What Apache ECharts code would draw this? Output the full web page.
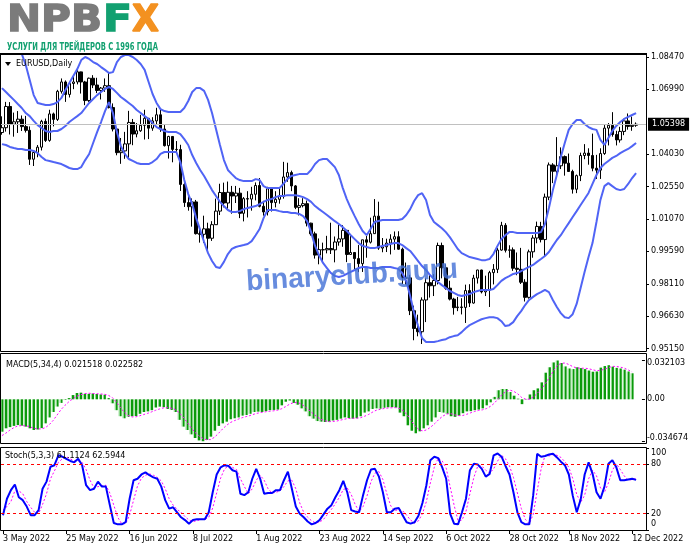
<!DOCTYPE html>
<html><head><meta charset="utf-8">
<script src="https://cdn.jsdelivr.net/npm/echarts@6/dist/echarts.min.js"></script>
<style>html,body{margin:0;padding:0;background:#fff}#c{width:691px;height:549px}</style>
</head><body><div id="c"></div>
<script>
const dates = [
'3 May 2022','4 May 2022','5 May 2022','6 May 2022','9 May 2022','10 May 2022','11 May 2022','12 May 2022','13 May 2022','16 May 2022','17 May 2022','18 May 2022','19 May 2022','20 May 2022','23 May 2022','24 May 2022','25 May 2022','26 May 2022','27 May 2022','30 May 2022','31 May 2022',
'1 Jun 2022','2 Jun 2022','3 Jun 2022','6 Jun 2022','7 Jun 2022','8 Jun 2022','9 Jun 2022','10 Jun 2022','13 Jun 2022','14 Jun 2022','15 Jun 2022','16 Jun 2022','17 Jun 2022','20 Jun 2022','21 Jun 2022','22 Jun 2022','23 Jun 2022','24 Jun 2022','27 Jun 2022','28 Jun 2022','29 Jun 2022','30 Jun 2022',
'1 Jul 2022','4 Jul 2022','5 Jul 2022','6 Jul 2022','7 Jul 2022','8 Jul 2022','11 Jul 2022','12 Jul 2022','13 Jul 2022','14 Jul 2022','15 Jul 2022','18 Jul 2022','19 Jul 2022','20 Jul 2022','21 Jul 2022','22 Jul 2022','25 Jul 2022','26 Jul 2022','27 Jul 2022','28 Jul 2022','29 Jul 2022',
'1 Aug 2022','2 Aug 2022','3 Aug 2022','4 Aug 2022','5 Aug 2022','8 Aug 2022','9 Aug 2022','10 Aug 2022','11 Aug 2022','12 Aug 2022','15 Aug 2022','16 Aug 2022','17 Aug 2022','18 Aug 2022','19 Aug 2022','22 Aug 2022','23 Aug 2022','24 Aug 2022','25 Aug 2022','26 Aug 2022','29 Aug 2022','30 Aug 2022','31 Aug 2022',
'1 Sep 2022','2 Sep 2022','5 Sep 2022','6 Sep 2022','7 Sep 2022','8 Sep 2022','9 Sep 2022','12 Sep 2022','13 Sep 2022','14 Sep 2022','15 Sep 2022','16 Sep 2022','19 Sep 2022','20 Sep 2022','21 Sep 2022','22 Sep 2022','23 Sep 2022','26 Sep 2022','27 Sep 2022','28 Sep 2022','29 Sep 2022','30 Sep 2022',
'3 Oct 2022','4 Oct 2022','5 Oct 2022','6 Oct 2022','7 Oct 2022','10 Oct 2022','11 Oct 2022','12 Oct 2022','13 Oct 2022','14 Oct 2022','17 Oct 2022','18 Oct 2022','19 Oct 2022','20 Oct 2022','21 Oct 2022','24 Oct 2022','25 Oct 2022','26 Oct 2022','27 Oct 2022','28 Oct 2022','31 Oct 2022',
'1 Nov 2022','2 Nov 2022','3 Nov 2022','4 Nov 2022','7 Nov 2022','8 Nov 2022','9 Nov 2022','10 Nov 2022','11 Nov 2022','14 Nov 2022','15 Nov 2022','16 Nov 2022','17 Nov 2022','18 Nov 2022','21 Nov 2022','22 Nov 2022','23 Nov 2022','24 Nov 2022','25 Nov 2022','28 Nov 2022','29 Nov 2022','30 Nov 2022',
'1 Dec 2022','2 Dec 2022','5 Dec 2022','6 Dec 2022','7 Dec 2022','8 Dec 2022','9 Dec 2022','12 Dec 2022','13 Dec 2022'];

const tickLabels = ['3 May 2022','25 May 2022','16 Jun 2022','8 Jul 2022','1 Aug 2022','23 Aug 2022','14 Sep 2022','6 Oct 2022','28 Oct 2022','18 Nov 2022','12 Dec 2022'];

// [open, high, low, close]
const ohlc = [
[1.0502,1.0576,1.0492,1.0524],[1.0524,1.0642,1.0506,1.0621],[1.0621,1.0641,1.0493,1.0540],[1.0540,1.0593,1.0483,1.0551],[1.0551,1.0600,1.0500,1.0563],
[1.0563,1.0580,1.0509,1.0529],[1.0529,1.0578,1.0502,1.0512],[1.0512,1.0530,1.0354,1.0380],[1.0380,1.0420,1.0349,1.0411],[1.0411,1.0445,1.0389,1.0435],
[1.0435,1.0560,1.0420,1.0553],[1.0553,1.0566,1.0459,1.0466],[1.0466,1.0606,1.0460,1.0587],[1.0587,1.0593,1.0530,1.0562],[1.0562,1.0697,1.0555,1.0690],
[1.0690,1.0749,1.0680,1.0733],[1.0733,1.0740,1.0642,1.0676],[1.0676,1.0730,1.0662,1.0726],[1.0726,1.0765,1.0700,1.0733],[1.0733,1.0787,1.0722,1.0779],
[1.0779,1.0780,1.0680,1.0733],[1.0733,1.0738,1.0627,1.0648],[1.0648,1.0753,1.0642,1.0750],[1.0750,1.0764,1.0705,1.0719],[1.0719,1.0752,1.0682,1.0694],
[1.0694,1.0710,1.0653,1.0705],[1.0705,1.0749,1.0688,1.0716],[1.0716,1.0774,1.0612,1.0616],[1.0616,1.0635,1.0507,1.0518],[1.0518,1.0520,1.0398,1.0410],
[1.0410,1.0477,1.0359,1.0418],[1.0418,1.0505,1.0382,1.0450],[1.0450,1.0601,1.0382,1.0548],[1.0548,1.0564,1.0444,1.0495],[1.0495,1.0545,1.0480,1.0510],
[1.0510,1.0583,1.0505,1.0535],[1.0535,1.0606,1.0470,1.0567],[1.0567,1.0568,1.0472,1.0522],[1.0522,1.0572,1.0510,1.0555],[1.0555,1.0615,1.0540,1.0583],
[1.0583,1.0606,1.0505,1.0518],[1.0518,1.0536,1.0438,1.0442],[1.0442,1.0487,1.0383,1.0484],[1.0484,1.0485,1.0366,1.0425],[1.0425,1.0463,1.0410,1.0424],
[1.0424,1.0446,1.0235,1.0265],[1.0265,1.0275,1.0162,1.0182],[1.0182,1.0220,1.0145,1.0163],[1.0163,1.0201,1.0072,1.0185],[1.0185,1.0194,1.0036,1.0040],
[1.0040,1.0070,0.9999,1.0037],[1.0037,1.0122,0.9998,1.0062],[1.0062,1.0090,0.9952,1.0019],[1.0019,1.0097,1.0007,1.0081],[1.0081,1.0200,1.0081,1.0143],
[1.0143,1.0268,1.0125,1.0228],[1.0228,1.0273,1.0160,1.0180],[1.0180,1.0278,1.0153,1.0229],[1.0229,1.0258,1.0131,1.0212],[1.0212,1.0258,1.0180,1.0225],
[1.0225,1.0249,1.0111,1.0133],[1.0133,1.0207,1.0096,1.0200],[1.0200,1.0234,1.0114,1.0198],[1.0198,1.0254,1.0145,1.0220],[1.0220,1.0274,1.0192,1.0260],
[1.0260,1.0294,1.0160,1.0165],[1.0165,1.0190,1.0122,1.0139],[1.0139,1.0254,1.0123,1.0245],[1.0245,1.0252,1.0141,1.0182],[1.0182,1.0234,1.0160,1.0197],
[1.0197,1.0248,1.0177,1.0211],[1.0211,1.0368,1.0200,1.0299],[1.0299,1.0364,1.0277,1.0319],[1.0319,1.0328,1.0234,1.0258],[1.0258,1.0262,1.0152,1.0160],
[1.0160,1.0202,1.0123,1.0168],[1.0168,1.0202,1.0160,1.0177],[1.0177,1.0191,1.0073,1.0088],[1.0088,1.0090,1.0031,1.0039],[1.0039,1.0049,0.9926,0.9942],
[0.9942,1.0018,0.9900,0.9967],[0.9967,0.9999,0.9910,0.9966],[0.9966,1.0030,0.9950,0.9972],[0.9972,1.0090,0.9947,0.9966],[0.9966,1.0027,0.9909,1.0002],
[1.0002,1.0080,0.9985,1.0016],[1.0016,1.0079,0.9980,1.0055],[1.0055,1.0057,0.9910,0.9945],[0.9945,1.0034,0.9943,0.9954],[0.9954,0.9955,0.9877,0.9926],
[0.9926,0.9988,0.9864,0.9903],[0.9903,1.0012,0.9865,1.0012],[1.0012,1.0029,0.9930,1.0001],[1.0001,1.0113,0.9995,1.0040],[1.0040,1.0198,1.0040,1.0120],
[1.0120,1.0186,0.9966,0.9974],[0.9974,1.0020,0.9955,0.9980],[0.9980,1.0017,0.9956,0.9997],[0.9997,1.0037,0.9945,1.0015],[1.0015,1.0050,0.9966,1.0026],
[1.0026,1.0051,0.9966,0.9969],[0.9969,0.9976,0.9810,0.9837],[0.9837,0.9908,0.9807,0.9838],[0.9838,0.9852,0.9668,0.9688],[0.9688,0.9711,0.9553,0.9607],
[0.9607,0.9670,0.9571,0.9592],[0.9592,0.9749,0.9536,0.9737],[0.9737,0.9838,0.9636,0.9816],[0.9816,0.9853,0.9748,0.9802],[0.9802,0.9855,0.9755,0.9826],
[0.9826,0.9999,0.9808,0.9986],[0.9986,0.9999,0.9836,0.9884],[0.9884,0.9900,0.9784,0.9791],[0.9791,0.9825,0.9735,0.9741],[0.9741,0.9747,0.9670,0.9702],
[0.9702,0.9751,0.9686,0.9705],[0.9705,0.9745,0.9671,0.9703],[0.9703,0.9807,0.9632,0.9780],[0.9780,0.9809,0.9705,0.9723],[0.9723,0.9852,0.9720,0.9837],
[0.9837,0.9875,0.9812,0.9874],[0.9874,0.9875,0.9767,0.9774],[0.9774,0.9848,0.9755,0.9782],[0.9782,0.9870,0.9705,0.9862],[0.9862,0.9901,0.9808,0.9877],
[0.9877,0.9975,0.9860,0.9965],[0.9965,1.0094,0.9962,1.0078],[1.0078,1.0088,0.9954,0.9964],[0.9964,0.9987,0.9930,0.9966],[0.9966,0.9977,0.9870,0.9882],
[0.9882,0.9954,0.9850,0.9877],[0.9877,0.9975,0.9810,0.9818],[0.9818,0.9832,0.9730,0.9749],[0.9749,0.9967,0.9743,0.9957],[0.9957,1.0033,0.9930,1.0020],
[1.0020,1.0095,0.9996,1.0073],[1.0073,1.0094,1.0000,1.0013],[1.0013,1.0223,0.9935,1.0207],[1.0207,1.0365,1.0193,1.0354],[1.0354,1.0362,1.0271,1.0325],
[1.0325,1.0481,1.0308,1.0350],[1.0350,1.0434,1.0335,1.0392],[1.0392,1.0397,1.0305,1.0362],[1.0362,1.0406,1.0325,1.0324],[1.0324,1.0332,1.0223,1.0243],
[1.0243,1.0310,1.0225,1.0305],[1.0305,1.0410,1.0280,1.0397],[1.0397,1.0449,1.0380,1.0408],[1.0408,1.0430,1.0355,1.0397],[1.0397,1.0497,1.0325,1.0339],
[1.0339,1.0400,1.0290,1.0330],[1.0330,1.0430,1.0290,1.0406],[1.0406,1.0536,1.0400,1.0522],[1.0522,1.0545,1.0443,1.0535],[1.0535,1.0595,1.0483,1.0493],
[1.0493,1.0510,1.0443,1.0468],[1.0468,1.0528,1.0456,1.0507],[1.0507,1.0565,1.0490,1.0555],[1.0555,1.0589,1.0515,1.0530],[1.0530,1.0575,1.0510,1.0535],
[1.0535,1.0548,1.0528,1.05398]];

const bbUpper = [
1.0970,1.0957,1.0943,1.0920,1.0893,1.0861,1.0810,1.0742,1.0673,1.0637,
1.0632,1.0628,1.0628,1.0632,1.0641,1.0660,1.0696,1.0728,1.0760,1.0792,
1.0833,1.0847,1.0838,1.0824,1.0815,1.0801,1.0788,1.0774,1.0778,1.0824,
1.0847,1.0856,1.0856,1.0847,1.0833,1.0815,1.0788,1.0733,1.0678,1.0637,
1.0609,1.0600,1.0596,1.0596,1.0596,1.0596,1.0614,1.0646,1.0687,1.0705,
1.0705,1.0692,1.0651,1.0591,1.0518,1.0445,1.0376,1.0331,1.0312,1.0294,
1.0285,1.0280,1.0280,1.0280,1.0289,1.0285,1.0257,1.0248,1.0248,1.0248,
1.0248,1.0267,1.0289,1.0303,1.0308,1.0312,1.0312,1.0312,1.0331,1.0358,
1.0376,1.0381,1.0381,1.0363,1.0344,1.0308,1.0248,1.0198,1.0157,1.0120,
1.0084,1.0052,1.0033,1.0061,1.0093,1.0098,1.0102,1.0102,1.0102,1.0102,
1.0102,1.0107,1.0125,1.0152,1.0189,1.0216,1.0225,1.0194,1.0125,1.0093,
1.0079,1.0065,1.0047,1.0024,0.9997,0.9970,0.9951,0.9942,0.9933,0.9929,
0.9924,0.9919,0.9919,0.9924,0.9947,0.9983,1.0015,1.0033,1.0047,1.0047,
1.0043,1.0043,1.0043,1.0043,1.0043,1.0043,1.0047,1.0084,1.0157,1.0239,
1.0308,1.0390,1.0454,1.0514,1.0541,1.0559,1.0559,1.0541,1.0527,1.0518,
1.0514,1.0468,1.0445,1.0477,1.0509,1.0532,1.0550,1.0564,1.0573,1.0582,
1.0591];

const bbMiddle = [
1.0705,1.0687,1.0669,1.0651,1.0632,1.0614,1.0591,1.0577,1.0555,1.0536,
1.0523,1.0509,1.0504,1.0509,1.0509,1.0518,1.0532,1.0550,1.0564,1.0577,
1.0591,1.0614,1.0637,1.0655,1.0673,1.0687,1.0701,1.0710,1.0701,1.0683,
1.0664,1.0651,1.0637,1.0623,1.0605,1.0591,1.0577,1.0564,1.0545,1.0527,
1.0518,1.0509,1.0504,1.0504,1.0504,1.0495,1.0472,1.0445,1.0399,1.0363,
1.0331,1.0303,1.0271,1.0239,1.0212,1.0185,1.0166,1.0148,1.0139,1.0139,
1.0143,1.0152,1.0157,1.0162,1.0166,1.0175,1.0185,1.0194,1.0198,1.0207,
1.0212,1.0212,1.0216,1.0216,1.0216,1.0212,1.0207,1.0198,1.0185,1.0166,
1.0152,1.0139,1.0125,1.0111,1.0097,1.0084,1.0070,1.0052,1.0033,1.0015,
0.9997,0.9984,0.9979,0.9974,0.9974,0.9979,0.9984,0.9988,0.9993,0.9997,
0.9997,0.9988,0.9974,0.9961,0.9938,0.9915,0.9892,0.9874,0.9851,0.9833,
0.9819,0.9805,0.9792,0.9778,0.9769,0.9760,0.9755,0.9760,0.9764,0.9773,
0.9778,0.9783,0.9783,0.9783,0.9787,0.9805,0.9824,0.9837,0.9846,0.9856,
0.9860,0.9869,0.9879,0.9888,0.9897,0.9911,0.9924,0.9938,0.9956,0.9984,
1.0011,1.0033,1.0061,1.0088,1.0116,1.0143,1.0171,1.0198,1.0226,1.0267,
1.0308,1.0340,1.0358,1.0372,1.0386,1.0395,1.0408,1.0418,1.0427,1.0440,
1.0454];

const bbLower = [
1.0449,1.0445,1.0436,1.0431,1.0427,1.0427,1.0422,1.0422,1.0418,1.0408,
1.0390,1.0376,1.0372,1.0367,1.0363,1.0358,1.0349,1.0340,1.0335,1.0335,
1.0344,1.0376,1.0404,1.0454,1.0504,1.0550,1.0600,1.0641,1.0591,1.0504,
1.0440,1.0404,1.0381,1.0372,1.0363,1.0358,1.0358,1.0358,1.0367,1.0381,
1.0404,1.0413,1.0413,1.0413,1.0413,1.0367,1.0285,1.0221,1.0175,1.0111,
1.0057,1.0002,0.9951,0.9915,0.9888,0.9883,0.9911,0.9947,0.9970,0.9979,
0.9984,0.9988,0.9993,1.0006,1.0033,1.0061,1.0111,1.0148,1.0148,1.0148,
1.0143,1.0139,1.0139,1.0134,1.0134,1.0130,1.0120,1.0097,1.0047,0.9984,
0.9942,0.9906,0.9883,0.9860,0.9847,0.9842,0.9847,0.9856,0.9865,0.9874,
0.9883,0.9888,0.9888,0.9883,0.9883,0.9883,0.9888,0.9888,0.9888,0.9883,
0.9879,0.9860,0.9824,0.9755,0.9677,0.9618,0.9563,0.9545,0.9545,0.9545,
0.9549,0.9554,0.9558,0.9567,0.9572,0.9576,0.9590,0.9608,0.9622,0.9631,
0.9640,0.9649,0.9654,0.9658,0.9658,0.9654,0.9640,0.9618,0.9622,0.9636,
0.9663,0.9686,0.9714,0.9737,0.9751,0.9764,0.9773,0.9783,0.9773,0.9737,
0.9705,0.9677,0.9658,0.9654,0.9672,0.9719,0.9792,0.9865,0.9933,0.9997,
1.0093,1.0194,1.0257,1.0271,1.0257,1.0244,1.0239,1.0244,1.0267,1.0294,
1.0317];

const macdHist = [
-0.0268,-0.0240,-0.0230,-0.0220,-0.0213,-0.0218,-0.0226,-0.0240,-0.0254,-0.0250,
-0.0238,-0.0199,-0.0150,-0.0105,-0.0060,-0.0030,-0.0005,0.0010,0.0035,0.0052,
0.0055,0.0045,0.0045,0.0048,0.0044,0.0040,0.0038,0.0010,-0.0033,-0.0090,
-0.0140,-0.0157,-0.0145,-0.0140,-0.0138,-0.0120,-0.0105,-0.0100,-0.0090,-0.0068,
-0.0061,-0.0065,-0.0080,-0.0088,-0.0105,-0.0170,-0.0226,-0.0254,-0.0290,-0.0320,
-0.0340,-0.034674,-0.0335,-0.0309,-0.0260,-0.0220,-0.0199,-0.0185,-0.0165,-0.0157,
-0.0150,-0.0135,-0.0130,-0.0120,-0.0105,-0.0102,-0.0105,-0.0098,-0.0090,-0.0088,
-0.0085,-0.0050,-0.0020,-0.0010,-0.0030,-0.0045,-0.0075,-0.0100,-0.0140,-0.0160,
-0.0180,-0.0185,-0.0188,-0.0185,-0.0175,-0.0170,-0.0160,-0.0150,-0.0155,-0.0160,
-0.0157,-0.0140,-0.0110,-0.0100,-0.0080,-0.0075,-0.0078,-0.0070,-0.0066,-0.0065,
-0.0068,-0.0110,-0.0140,-0.0215,-0.0260,-0.0281,-0.0265,-0.0240,-0.0215,-0.0185,
-0.0150,-0.0105,-0.0110,-0.0120,-0.0140,-0.0145,-0.0135,-0.0115,-0.0100,-0.0098,
-0.0090,-0.0085,-0.0075,-0.0050,-0.0025,0.0020,0.0075,0.0085,0.0085,0.0060,
0.0030,0.0005,-0.0040,0.0003,0.0040,0.0075,0.0090,0.0140,0.0220,0.0265,
0.0305,0.032103,0.0300,0.0272,0.0255,0.0250,0.0265,0.0258,0.0250,0.0238,
0.0228,0.0230,0.0262,0.0275,0.0282,0.0270,0.0260,0.0255,0.0245,0.0230,
0.021518];

const macdSignal = [
-0.0300,-0.0280,-0.0255,-0.0235,-0.0220,-0.0218,-0.0220,-0.0225,-0.0240,-0.0245,
-0.0245,-0.0235,-0.0210,-0.0175,-0.0130,-0.0085,-0.0050,-0.0020,0.0005,0.0025,
0.0038,0.0047,0.0050,0.0048,0.0046,0.0044,0.0042,0.0033,0.0015,-0.0020,
-0.0065,-0.0105,-0.0133,-0.0146,-0.0145,-0.0136,-0.0126,-0.0116,-0.0104,-0.0091,
-0.0080,-0.0071,-0.0069,-0.0074,-0.0085,-0.0111,-0.0147,-0.0189,-0.0235,-0.0273,
-0.0301,-0.0324,-0.0335,-0.0333,-0.0313,-0.0281,-0.0246,-0.0216,-0.0192,-0.0177,
-0.0164,-0.0152,-0.0143,-0.0134,-0.0123,-0.0114,-0.0108,-0.0103,-0.0099,-0.0095,
-0.0090,-0.0078,-0.0061,-0.0041,-0.0028,-0.0026,-0.0038,-0.0063,-0.0090,-0.0119,
-0.0145,-0.0166,-0.0178,-0.0185,-0.0183,-0.0180,-0.0172,-0.0164,-0.0159,-0.0156,
-0.0156,-0.0153,-0.0141,-0.0127,-0.0108,-0.0091,-0.0083,-0.0076,-0.0072,-0.0070,
-0.0069,-0.0077,-0.0096,-0.0133,-0.0181,-0.0224,-0.0255,-0.0262,-0.0250,-0.0226,
-0.0198,-0.0164,-0.0138,-0.0121,-0.0119,-0.0129,-0.0135,-0.0134,-0.0124,-0.0112,
-0.0101,-0.0092,-0.0087,-0.0077,-0.0059,-0.0033,0.0005,0.0039,0.0066,0.0076,
0.0065,0.0044,0.0014,0.0000,0.0002,0.0020,0.0052,0.0086,0.0131,0.0179,
0.0233,0.0278,0.0298,0.0300,0.0287,0.0269,0.0260,0.0257,0.0257,0.0253,
0.0244,0.0237,0.0240,0.0249,0.0262,0.0272,0.0272,0.0266,0.0258,0.0243,
0.022582];

const stochMain = [
18.1,38.1,48.6,55.5,39.9,36.4,28.6,18.1,18.1,24.2,
50.3,59.0,77.2,79.0,91.1,89.4,86.8,84.2,82.5,86.8,
79.0,54.6,48.6,50.3,59.0,52.9,52.9,30.3,8.6,6.9,
6.9,9.5,38.1,60.7,62.5,67.7,70.3,66.8,64.2,62.5,
52.9,36.4,26.0,27.7,21.6,15.5,12.1,7.7,12.1,13.0,
13.0,13.0,21.6,46.0,67.7,76.4,79.0,78.1,72.9,71.2,
44.2,42.5,46.0,62.5,74.6,62.5,44.2,45.1,45.1,48.6,
48.6,60.7,71.2,50.3,28.6,19.9,15.5,10.3,6.9,8.6,
12.1,19.0,26.0,30.3,39.9,48.6,59.9,46.0,24.2,22.5,
21.6,42.5,60.7,73.8,74.6,65.1,46.0,21.6,21.6,26.0,
26.8,18.1,9.5,7.7,9.5,17.3,32.9,54.6,85.1,89.4,
87.7,76.4,62.5,19.9,7.7,6.9,21.6,38.1,72.9,80.7,
79.8,74.6,65.1,68.5,91.1,93.3,89.4,78.1,67.7,46.0,
21.6,9.5,6.9,6.9,42.5,92.9,89.4,90.3,92.0,92.9,
88.5,83.3,79.0,67.7,41.6,21.6,37.3,67.7,82.5,68.5,
46.0,38.1,52.9,80.7,85.1,76.4,60.7,60.7,61.6,62.5,
61.1124];

const stochSignal = [
24.2,28.6,34.7,47.7,47.7,44.2,34.7,27.7,21.6,19.9,
31.2,44.2,62.5,72.0,82.5,86.8,89.4,86.8,84.2,84.2,
82.5,73.8,60.7,51.2,52.9,53.8,54.6,45.1,30.3,15.5,
7.7,7.7,18.1,36.4,53.8,63.3,66.8,68.5,66.8,64.2,
59.9,50.3,38.1,30.3,25.1,21.6,16.4,12.1,10.3,11.2,
13.0,13.0,15.5,26.8,45.1,63.3,74.6,78.1,76.4,73.8,
62.5,52.9,44.2,50.3,60.7,66.8,60.7,50.3,45.1,46.0,
47.7,52.9,59.9,60.7,50.3,32.9,21.6,15.5,11.2,8.6,
9.5,13.0,19.0,25.1,32.1,39.9,49.4,51.2,43.3,31.2,
22.5,28.6,41.6,59.0,69.4,71.2,61.6,44.2,29.4,23.4,
25.1,23.4,18.1,12.1,8.6,11.2,19.9,34.7,57.3,76.4,
87.7,84.2,75.5,52.9,30.3,11.2,12.1,22.5,44.2,64.2,
78.1,78.1,72.9,69.4,74.6,84.2,91.1,86.8,78.1,64.2,
45.1,26.0,13.0,7.7,19.0,47.7,74.6,91.1,90.3,92.0,
91.1,88.5,83.3,76.4,62.5,43.3,33.8,42.5,62.5,72.9,
66.0,51.2,46.0,57.3,72.9,80.7,73.8,66.0,60.7,61.6,
62.5944];

const priceTicks = [0.9515,0.9663,0.9811,0.9959,1.0107,1.0255,1.0403,1.0699,1.0847];
const lastPrice = 1.05398;
const macdTicks = [-0.034674, 0, 0.032103];
const stochTicks = [0, 20, 80, 100];
const stochLevels = [20, 80];

const FONT = '"DejaVu Sans", sans-serif';
const cats = dates.concat(['', '']);
const candleData = ohlc.map(d => [d[0], d[3], d[2], d[1]]);
const isTick = (idx, val) => tickLabels.indexOf(val) >= 0;

function textWidth(text, font) {
  const ctx = document.createElement('canvas').getContext('2d');
  ctx.font = font; return ctx.measureText(text).width;
}
function fitted(text, font, x, yMid, w, fill, stroke) {
  const sw = textWidth(text, font);
  const st = { text: text, font: font, fill: fill, align: 'left', verticalAlign: 'middle' };
  if (stroke) { st.stroke = fill; st.lineWidth = stroke; }
  return { type: 'text', x: x, y: yMid, scaleX: w / sw, z: 200, style: st };
}

const logoFont = 'bold 38px "DejaVu Sans"';
const subFont = 'bold 11px "Liberation Sans Narrow", "DejaVu Sans Condensed"';
const wmFont = 'bold 29px "Liberation Sans", Arial';

const chart = echarts.init(document.getElementById('c'), null, { renderer: 'canvas' });
const axisLblBase = { fontFamily: FONT, fontSize: 8, color: '#000' };
const blueBand = '#5064f5';

const option = {
  animation: false,
  backgroundColor: '#fff',
  grid: [
    { left: 0, width: 646, top: 55, height: 296 },
    { left: 0, width: 646, top: 353, height: 90 },
    { left: 0, width: 646, top: 448, height: 82 }
  ],
  xAxis: [0, 1, 2].map(g => ({
    type: 'category', gridIndex: g, data: cats, boundaryGap: true,
    axisLine: { show: false },
    axisTick: g === 2 ? { show: true, interval: isTick, alignWithLabel: true, length: 4, lineStyle: { color: '#000' } } : { show: false },
    axisLabel: g === 2 ? Object.assign({ show: true, interval: isTick, align: 'left', margin: 5 }, axisLblBase) : { show: false },
    splitLine: { show: false }
  })),
  yAxis: [
    { type: 'value', gridIndex: 0, position: 'right', min: 0.950392, max: 1.085614,
      axisLine: { show: false }, splitLine: { show: false },
      axisTick: { show: true, length: 3, customValues: priceTicks, lineStyle: { color: '#000' } },
      axisLabel: Object.assign({ customValues: priceTicks, margin: 5, formatter: v => v.toFixed(5) }, axisLblBase) },
    { type: 'value', gridIndex: 1, position: 'right', min: -0.036146, max: 0.038296,
      axisLine: { show: false }, splitLine: { show: false },
      axisTick: { show: true, length: 3, customValues: macdTicks, lineStyle: { color: '#000' } },
      axisLabel: Object.assign({ customValues: macdTicks, margin: 5,
        formatter: v => v === 0 ? '{m|0.00}' : (v > 0 ? '{t|' + v.toFixed(6) + '}' : '{b|' + v.toFixed(6) + '}'),
        rich: { t: { padding: [4, 0, 0, 0], fontFamily: FONT, fontSize: 8 }, b: { padding: [0, 0, 6, 0], fontFamily: FONT, fontSize: 8 }, m: { fontFamily: FONT, fontSize: 8 } } }, axisLblBase) },
    { type: 'value', gridIndex: 2, position: 'right', min: 0, max: 100,
      axisLine: { show: false }, splitLine: { show: false },
      axisTick: { show: true, length: 3, customValues: stochTicks, lineStyle: { color: '#000' } },
      axisLabel: Object.assign({ customValues: stochTicks, margin: 5,
        formatter: v => v === 100 ? '{t|100}' : (v === 0 ? '{b|0}' : '{m|' + v + '}'),
        rich: { t: { padding: [10, 0, 0, 0], fontFamily: FONT, fontSize: 8 }, b: { padding: [0, 0, 12, 0], fontFamily: FONT, fontSize: 8 }, m: { fontFamily: FONT, fontSize: 8 } } }, axisLblBase) }
  ],
  series: [
    { type: 'line', xAxisIndex: 0, yAxisIndex: 0, data: bbMiddle, symbol: 'none', lineStyle: { opacity: 0 }, z: 1, silent: true,
      markLine: { silent: true, symbol: ['none', 'none'], animation: false, precision: 5,
        lineStyle: { color: '#c0c0c0', width: 1, type: 'solid' },
        label: { show: true, position: 'end', distance: 2, formatter: lastPrice.toFixed(5),
          backgroundColor: '#000', color: '#fff', fontFamily: FONT, fontSize: 8, padding: [3, 4, 2, 4] },
        data: [{ yAxis: lastPrice }] } },
    { type: 'candlestick', xAxisIndex: 0, yAxisIndex: 0, data: candleData, barWidth: 3,
      itemStyle: { color: '#ffffff', color0: '#000000', borderColor: '#000000', borderColor0: '#000000', borderWidth: 1 },
      z: 2 },
    { type: 'line', xAxisIndex: 0, yAxisIndex: 0, data: bbUpper, symbol: 'none', lineStyle: { color: blueBand, width: 2 }, z: 3 },
    { type: 'line', xAxisIndex: 0, yAxisIndex: 0, data: bbMiddle, symbol: 'none', lineStyle: { color: blueBand, width: 2 }, z: 3 },
    { type: 'line', xAxisIndex: 0, yAxisIndex: 0, data: bbLower, symbol: 'none', lineStyle: { color: blueBand, width: 2 }, z: 3 },
    { type: 'bar', xAxisIndex: 1, yAxisIndex: 1, data: macdHist, barWidth: 3,
      itemStyle: { color: new echarts.graphic.LinearGradient(0, 0, 1, 0, [
        { offset: 0, color: '#8fd88f' }, { offset: 0.34, color: '#8fd88f' }, { offset: 0.35, color: '#0b9a0b' }, { offset: 1, color: '#0b9a0b' }]) } },
    { type: 'line', xAxisIndex: 1, yAxisIndex: 1, data: macdSignal, symbol: 'none',
      lineStyle: { color: '#ff00ff', width: 1, type: [2, 2] }, z: 4 },
    { type: 'line', xAxisIndex: 2, yAxisIndex: 2, data: stochSignal, symbol: 'none',
      lineStyle: { color: '#ff00ff', width: 1, type: [2, 2] }, z: 3 },
    { type: 'line', xAxisIndex: 2, yAxisIndex: 2, data: stochMain, symbol: 'none',
      lineStyle: { color: '#0000ff', width: 2 }, z: 4,
      markLine: { silent: true, symbol: ['none', 'none'], animation: false,
        lineStyle: { color: '#ff0000', width: 1, type: [3, 3] }, label: { show: false },
        data: stochLevels.map(v => ({ yAxis: v })) } }
  ],
  graphic: [
    { type: 'rect', shape: { x: 0.5, y: 54.5, width: 646, height: 297 }, style: { fill: 'none', stroke: '#000', lineWidth: 1 }, z: 150, silent: true },
    { type: 'line', shape: { x1: 0, y1: 54, x2: 647, y2: 54 }, style: { stroke: '#000', lineWidth: 2 }, z: 150, silent: true },
    { type: 'rect', shape: { x: 0.5, y: 353.5, width: 646, height: 90 }, style: { fill: 'none', stroke: '#000', lineWidth: 1 }, z: 150, silent: true },
    { type: 'rect', shape: { x: 0.5, y: 447.5, width: 646, height: 83 }, style: { fill: 'none', stroke: '#000', lineWidth: 1 }, z: 150, silent: true },
    fitted('NPB', logoFont, 7, 21, 95, '#7b7b7b', 1.4),
    fitted('F', logoFont, 103, 21, 29, '#12a070', 1.4),
    fitted('X', logoFont, 132, 21, 27, '#f39120', 1.4),
    fitted('УСЛУГИ ДЛЯ ТРЕЙДЕРОВ С 1996 ГОДА', subFont, 7, 47.5, 151, '#12a070'),
    { type: 'polygon', shape: { points: [[5, 62], [11, 62], [8, 66]] }, style: { fill: '#000' }, z: 200 },
    { type: 'text', x: 16, y: 63.5, z: 200, style: { text: 'EURUSD,Daily', fontFamily: FONT, fontSize: 8, fill: '#000', align: 'left', verticalAlign: 'middle' } },
    { type: 'text', x: 6, y: 365, z: 200, style: { text: 'MACD(5,34,4) 0.021518 0.022582', fontFamily: FONT, fontSize: 8, fill: '#000', align: 'left', verticalAlign: 'middle' } },
    { type: 'text', x: 5, y: 456, z: 200, style: { text: 'Stoch(5,3,3) 61.1124 62.5944', fontFamily: FONT, fontSize: 8, fill: '#000', align: 'left', verticalAlign: 'middle' } },
    (function () {
      const sw = textWidth('binaryclub.guru', wmFont);
      return { type: 'text', x: 352, y: 276, rotation: 0.06, scaleX: 212 / sw, z: 180, silent: true,
        style: { text: 'binaryclub.guru', font: wmFont, fill: 'rgba(70,115,215,0.82)', align: 'center', verticalAlign: 'middle' } };
    })()
  ]
};
chart.setOption(option);
</script>
</body></html>
